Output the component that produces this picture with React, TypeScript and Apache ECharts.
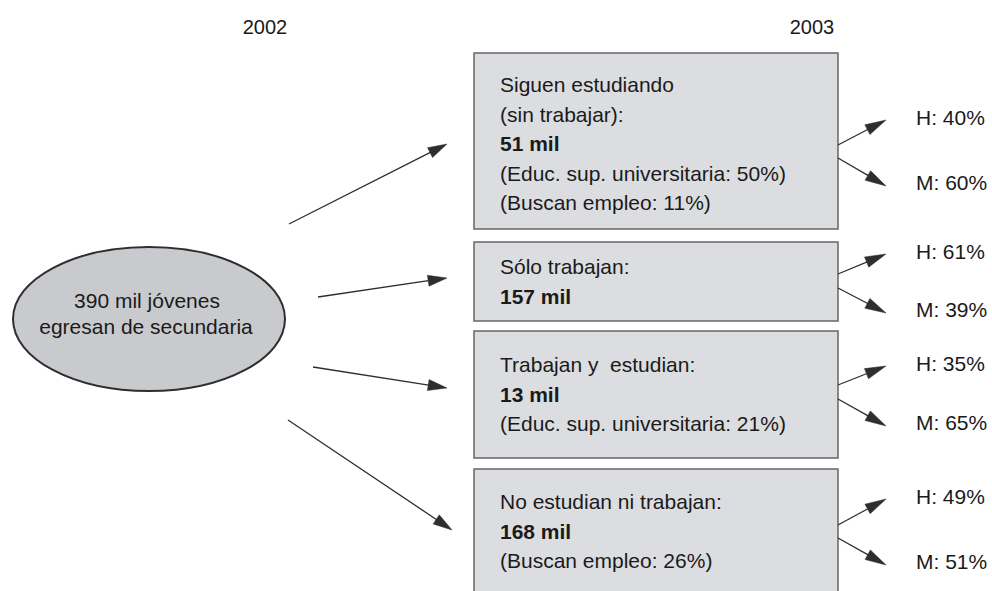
import React, { useEffect, useRef } from "react";
import * as echarts from "echarts";

// ---- Data ----
const yearLabels = ["2002", "2003"];
const sourceLines = ["390 mil jóvenes", "egresan de secundaria"];
const categoryTitles = [
  ["Siguen estudiando", "(sin trabajar):"],
  ["Sólo trabajan:"],
  ["Trabajan y  estudian:"],
  ["No estudian ni trabajan:"],
];
const totalsMil = [51, 157, 13, 168];
const univShare: (number | null)[] = [50, null, 21, null];
const jobSearchShare: (number | null)[] = [11, null, null, 26];
const menShare = [40, 61, 35, 49];
const womenShare = [60, 39, 65, 51];

// ---- Layout ----
const BOX_X = 474;
const BOX_W = 364;
const boxTop = [53, 242, 331, 469];
const boxBottom = [229, 321, 458, 600];
const textStartY = [85, 267, 365, 502];
const LINE_STEP = 29.5;
const labelHY = [118, 252, 364, 497];
const labelMY = [183, 310, 423, 562];
const splitStartUp = [145, 274, 385, 525];
const splitStartDown = [158, 288, 399, 538];
const bigArrows = [
  [289, 224, 447, 144],
  [318, 297, 447, 278],
  [313, 367, 447, 388],
  [288, 420, 452, 530],
];

const INK = "#1a1a1a";
const LINE = "#2e2e2e";
const FONT = '"Liberation Sans", Arial, Helvetica, sans-serif';
const SX = 1.05;

function text(x: number, y: number, t: string, opts: any = {}) {
  return {
    type: "text",
    x,
    y,
    scaleX: opts.scaleX ?? SX,
    z: 10,
    style: {
      text: t,
      fill: INK,
      fontSize: opts.fontSize ?? 20,
      fontWeight: opts.bold ? "bold" : "normal",
      fontFamily: FONT,
      align: opts.align ?? "left",
      textAlign: opts.align ?? "left",
      verticalAlign: "middle",
      textVerticalAlign: "middle",
    },
  };
}

function arrow(x1: number, y1: number, x2: number, y2: number, len: number, hw: number) {
  const dx = x2 - x1;
  const dy = y2 - y1;
  const d = Math.sqrt(dx * dx + dy * dy);
  const ux = dx / d;
  const uy = dy / d;
  const bx = x2 - ux * len;
  const by = y2 - uy * len;
  const px = -uy * hw;
  const py = ux * hw;
  return [
    {
      type: "line",
      z: 5,
      shape: { x1, y1, x2: bx + ux * 2, y2: by + uy * 2 },
      style: { stroke: LINE, lineWidth: 1.3 },
    },
    {
      type: "polygon",
      z: 6,
      shape: {
        points: [
          [x2, y2],
          [bx + px, by + py],
          [bx - px, by - py],
        ],
      },
      style: { fill: LINE, stroke: LINE, lineWidth: 0.5 },
    },
  ];
}

function buildGraphic() {
  const els: any[] = [];
  // years
  els.push(text(265, 27, yearLabels[0], { align: "center", fontSize: 20, scaleX: 1 }));
  els.push(text(812, 27, yearLabels[1], { align: "center", fontSize: 20, scaleX: 1 }));

  // source ellipse
  els.push({
    type: "ellipse",
    z: 2,
    shape: { cx: 149, cy: 319, rx: 136, ry: 72 },
    style: { fill: "#c9cacd", stroke: "#2e2e2e", lineWidth: 2 },
  });
  els.push(text(147, 301, sourceLines[0], { align: "center" }));
  els.push(text(146, 327, sourceLines[1], { align: "center" }));

  // big arrows
  bigArrows.forEach((a) => els.push(...arrow(a[0], a[1], a[2], a[3], 19, 5.5)));

  // boxes
  categoryTitles.forEach((title, i) => {
    els.push({
      type: "rect",
      z: 2,
      shape: { x: BOX_X, y: boxTop[i], width: BOX_W, height: boxBottom[i] - boxTop[i] },
      style: { fill: "#dcdde0", stroke: "#666666", lineWidth: 1.5 },
    });
    const lines: { t: string; bold: boolean }[] = title.map((t) => ({ t, bold: false }));
    lines.push({ t: `${totalsMil[i]} mil`, bold: true });
    if (univShare[i] != null) lines.push({ t: `(Educ. sup. universitaria: ${univShare[i]}%)`, bold: false });
    if (jobSearchShare[i] != null) lines.push({ t: `(Buscan empleo: ${jobSearchShare[i]}%)`, bold: false });
    lines.forEach((ln, k) => {
      els.push(text(500, textStartY[i] + k * LINE_STEP, ln.t, { bold: ln.bold }));
    });

    // split arrows
    const right = BOX_X + BOX_W;
    els.push(...arrow(right, splitStartUp[i], 886, labelHY[i] + 2, 21, 5.5));
    els.push(...arrow(right, splitStartDown[i], 886, labelMY[i] + 3, 21, 5.5));
    els.push(text(916, labelHY[i], `H: ${menShare[i]}%`));
    els.push(text(916, labelMY[i], `M: ${womenShare[i]}%`));
  });
  return els;
}

export default function App() {
  const ref = useRef<HTMLDivElement>(null);
  useEffect(() => {
    if (!ref.current) return;
    const chart = echarts.init(ref.current, null, { renderer: "svg" });
    chart.setOption({
      animation: false,
      backgroundColor: "#ffffff",
      graphic: { elements: buildGraphic() },
    });
    return () => chart.dispose();
  }, []);
  return (
    <div
      ref={ref}
      style={{ position: "fixed", left: 0, top: 0, width: 992, height: 591, background: "#fff" }}
    />
  );
}
